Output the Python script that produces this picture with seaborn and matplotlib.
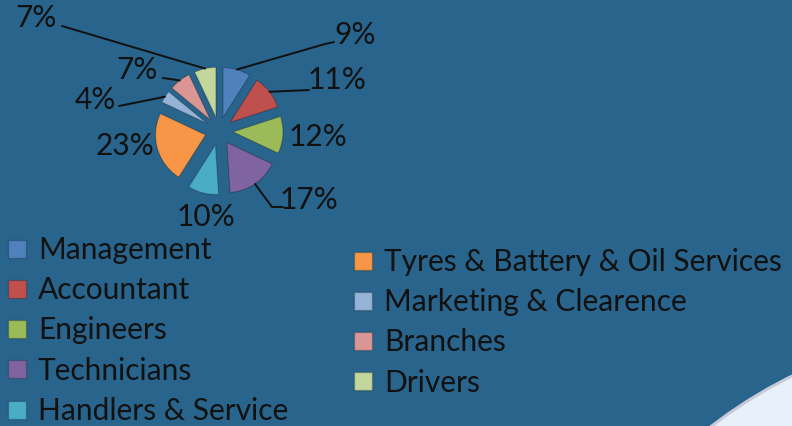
import matplotlib
matplotlib.use('Agg')
import matplotlib.pyplot as plt
from matplotlib.lines import Line2D
from matplotlib.patches import Circle
import numpy as np
import seaborn as sns

# data
categories = ['Management', 'Accountant', 'Engineers', 'Technicians', 'Handlers & Service',
              'Tyres & Battery & Oil Services', 'Marketing & Clearence', 'Branches', 'Drivers']
shares = [9, 11, 12, 17, 10, 23, 4, 7, 7]
slice_colors = ['#4f81bd', '#c0504d', '#9bbb59', '#8064a2', '#4bacc6',
                '#f79646', '#95b3d7', '#d99694', '#c3d69b']

BG = '#28648b'
INK = '#111111'
W, H = 792, 426
FS = 21.5

sns.set_theme(style='white')
plt.rcParams['font.family'] = ['Lato', 'DejaVu Sans']

fig = plt.figure(figsize=(W / 100, H / 100), dpi=100, facecolor=BG)
ax = fig.add_axes([0, 0, 1, 1])
ax.set_facecolor(BG)

# slide decoration in the lower right corner
ax.add_patch(Circle((1000, H - 800), 473, color='#c9c9d9', zorder=0))
ax.add_patch(Circle((1000, H - 800), 470, color='#e8f0f9', zorder=0))

# pie, centre / radius / explode offset in pixel units
cx, cy, r, expl = 219, H - 131, 50, 14
palette = sns.color_palette(slice_colors)
wedges, _ = ax.pie(shares, colors=palette, startangle=90, counterclock=False,
                   explode=[expl] * len(shares), center=(cx, cy), radius=r,
                   wedgeprops=dict(edgecolor=(0, 0, 0, 0.25), linewidth=0.8))

# label centres (pixel, y down)
label_pos = [(355, 35), (337, 80), (318, 137), (309, 200), (206, 217),
             (125, 146), (95, 100), (137, 70), (36, 18)]
# leader line points after the wedge edge (pixel, y down)
leaders = {0: [(325, 44), (334, 42)], 1: [(309, 90)], 3: [(272, 207), (283, 207)],
           6: [(119, 106)], 7: [(163, 78)], 8: [(62, 26)]}

total = sum(shares)
for i, (w, s, (lx, ly)) in enumerate(zip(wedges, shares, label_pos)):
    txt = f'{round(100 * s / total)}%'
    ax.text(lx, H - ly, txt, ha='center', va='center', fontsize=FS, color=INK)
    if i in leaders:
        mid = np.deg2rad((w.theta1 + w.theta2) / 2)
        px = [w.center[0] + r * np.cos(mid)] + [p[0] for p in leaders[i]]
        py = [w.center[1] + r * np.sin(mid)] + [H - p[1] for p in leaders[i]]
        ax.plot(px, py, color=INK, lw=1.4, solid_capstyle='round')

ax.set_xlim(0, W)
ax.set_ylim(0, H)
ax.set_aspect('equal')
ax.axis('off')

handles = [Line2D([], [], marker='s', linestyle='', markersize=13,
                  markerfacecolor=c, markeredgecolor=(0, 0, 0, 0.2)) for c in slice_colors]
leg_kw = dict(frameon=False, fontsize=FS, labelcolor=INK, handlelength=0.8,
              handletextpad=0.3, labelspacing=0.41, borderaxespad=0, borderpad=0)
fig.legend(handles[:5], categories[:5], loc='upper left',
           bbox_to_anchor=(5 / W, 1 - 236 / H), **leg_kw)
fig.legend(handles[5:], categories[5:], loc='upper left',
           bbox_to_anchor=(351 / W, 1 - 248 / H), **leg_kw)

fig.savefig('out.png', dpi=100, facecolor=BG)
